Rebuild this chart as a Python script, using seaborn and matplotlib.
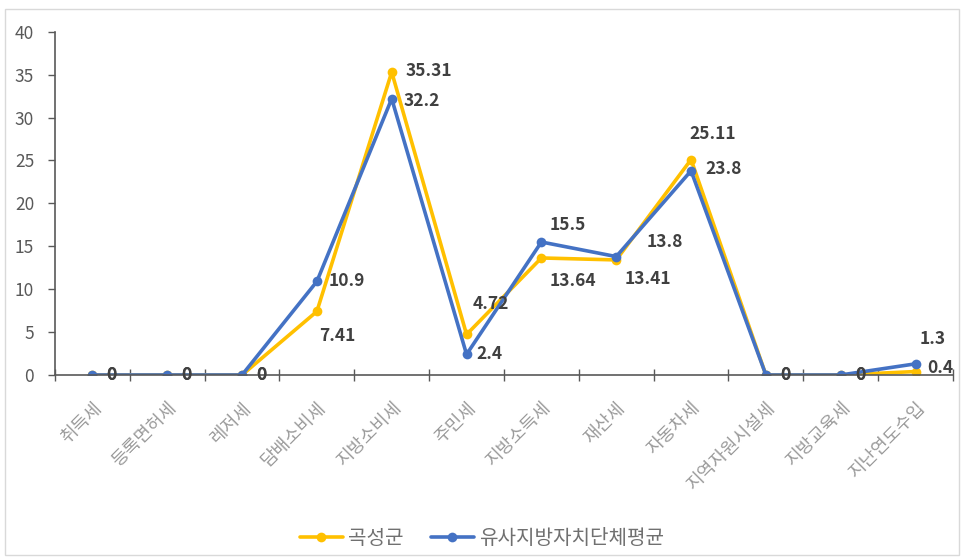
import matplotlib
matplotlib.use("Agg")
import matplotlib.pyplot as plt
import seaborn as sns
import pandas as pd
from matplotlib.patches import Rectangle

categories = ["취득세", "등록면허세", "레저세", "담배소비세", "지방소비세", "주민세",
              "지방소득세", "재산세", "자동차세", "지역자원시설세", "지방교육세", "지난연도수입"]
series_names = ["곡성군", "유사지방자치단체평균"]
gokseong = [0, 0, 0, 7.41, 35.31, 4.72, 13.64, 13.41, 25.11, 0, 0, 0.4]
similar_avg = [0, 0, 0, 10.9, 32.2, 2.4, 15.5, 13.8, 23.8, 0, 0, 1.3]
y_ticks = [0, 5, 10, 15, 20, 25, 30, 35, 40]

colors = ["#FFC000", "#4472C4"]

sns.set_theme(style="white")
plt.rcParams['font.family'] = ['Noto Sans CJK KR', 'DejaVu Sans']

df = pd.DataFrame({
    "cat": categories * 2,
    "val": gokseong + similar_avg,
    "series": [series_names[0]] * len(categories) + [series_names[1]] * len(categories),
})

fig = plt.figure(figsize=(9.64, 5.58), dpi=100)
ax = fig.add_axes([0.057, 0.328, 0.9316, 0.615])

sns.lineplot(data=df, x="cat", y="val", hue="series", palette=colors,
             marker="o", markersize=7, markeredgewidth=0, linewidth=2.6,
             sort=False, ax=ax, legend=True)

ax.set_xlim(-0.5, len(categories) - 0.5)
ax.set_ylim(0, 40)
ax.set_yticks(y_ticks)
ax.set_yticklabels([str(t) for t in y_ticks], fontsize=12.5, color="#595959")
ax.set_xlabel("")
ax.set_ylabel("")

ax.set_xticks(range(len(categories)))
ax.set_xticklabels(categories, rotation=45, ha="right", rotation_mode="anchor",
                   fontsize=13, color="#9a9a9a")
ax.tick_params(axis="x", which="major", bottom=True, length=0, pad=17)
ax.set_xticks([i - 0.5 for i in range(len(categories) + 1)], minor=True)
ax.tick_params(axis="x", which="minor", bottom=True, direction="inout", length=8,
               width=1, color="#595959")
ax.tick_params(axis="y", which="major", left=True, direction="out", length=5, width=1,
               color="#595959", pad=10)

for s in ["top", "right"]:
    ax.spines[s].set_visible(False)
for s in ["left", "bottom"]:
    ax.spines[s].set_color("#595959")
    ax.spines[s].set_linewidth(1.2)
ax.grid(False)

# data label offsets in pixels (dx, dy)
off_y = [(14, 0), (14, 0), (14, 0), (2, -25), (14, 1), (6, 30), (8, -23), (8, -19), (-2, 26),
         (14, 0), (14, 0), (12, 4)]
off_b = [(14, 0), (14, 0), (14, 0), (12, 0), (12, -2), (10, 0), (8, 17), (30, 15), (14, 2),
         (14, 0), (14, 0), (4, 25)]

for vals, offs in [(gokseong, off_y), (similar_avg, off_b)]:
    for i, v in enumerate(vals):
        dx, dy = offs[i]
        ax.annotate(f"{v:g}", xy=(i, v), xytext=(dx, dy), textcoords="offset pixels",
                    ha="left", va="center", fontsize=12.5, color="#404040", fontweight="bold",
                    annotation_clip=False)

leg = ax.legend(loc="center", bbox_to_anchor=(0.5, 0.035), bbox_transform=fig.transFigure,
                ncol=2, frameon=False, fontsize=14.5, handlelength=2.1, handletextpad=0.25,
                columnspacing=1.4)
for t in leg.get_texts():
    t.set_color("#707070")

fig.patches.append(Rectangle((0.005, 0.005), 0.99, 0.978, transform=fig.transFigure,
                             fill=False, edgecolor="#d9d9d9", linewidth=1))

fig.savefig("out.png", dpi=100)
